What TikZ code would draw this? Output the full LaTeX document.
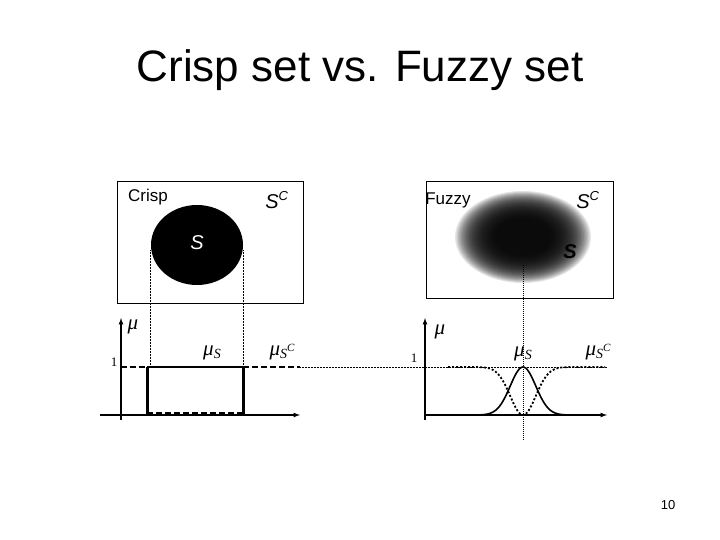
\documentclass[tikz,border=0pt]{standalone}
\usepackage{fontspec}
\setmainfont{Liberation Sans}
\newfontfamily\greekf{Liberation Serif}
\begin{document}
\begin{tikzpicture}[x=1pt,y=-1pt,
  lab/.style={font=\fontsize{17}{18}\selectfont},
  mlab/.style={font=\fontsize{20}{22}\selectfont\itshape},
  glab/.style={font=\fontsize{21}{22}\selectfont\greekf\itshape},
  ax/.style={line width=1.2pt,-latex},
  dotl/.style={densely dotted,line width=0.5pt},
  thickd/.style={line width=2.4pt,dash pattern=on 6pt off 3pt},
  thickdot/.style={line width=1.8pt,dash pattern=on 2pt off 2pt}]
\useasboundingbox (0,0) rectangle (720,540);
\node[font=\fontsize{44}{48}\selectfont] (title) at (360,70) {Crisp set vs. Fuzzy set};
\node[font=\fontsize{13}{15}\selectfont] (pg) at (668,505) {10};
% left
\draw[line width=1pt] (117,182) rectangle (303,303);
\fill (197,245) ellipse (46 and 40);
\node[lab] (crisp) at (148,197) {Crisp};
\node[mlab] (sc1) at (277,200) {S\textsuperscript{\fontsize{13}{14}\selectfont C}};
\node[mlab,text=white] (s1) at (197,243) {S};
\draw[dotl] (150,250) -- (150,367);
\draw[dotl] (243,250) -- (243,367);
\draw[ax] (121,420) -- (121,318);
\draw[ax] (100,415) -- (300,415);
\node[glab] (mu1) at (133,327) {μ};
\node[font=\fontsize{13}{14}\selectfont\greekf] (one1) at (114,362) {1};
\node[glab] (mus1) at (212,353) {μ\raisebox{-3pt}{\fontsize{14}{14}\selectfont\itshape S}};
\node[glab] (musc1) at (282,352) {μ\raisebox{-3pt}{\fontsize{14}{14}\selectfont\itshape S}\raisebox{4pt}{\fontsize{11}{11}\selectfont\itshape C}};
\draw[line width=1.6pt] (147,367) -- (243,367);
\draw[line width=3pt] (147,367) -- (147,415);
\draw[line width=3pt] (243,367) -- (243,415);
\draw[thickd] (121,367) -- (147,367);
\draw[white,line width=1pt,dash pattern=on 4pt off 5pt] (145,371) -- (145,411);
\draw[thickd] (243,367) -- (300,367);
\draw[white,line width=1pt,dash pattern=on 4pt off 5pt] (245,371) -- (245,411);
\draw[line width=1.6pt,dash pattern=on 6pt off 3pt] (147,413) -- (243,413);
\draw[dotl] (300,367) -- (607,367);
% right
\draw[line width=1pt] (426,182) rectangle (613,298);
\foreach \i in {0,...,29}{
  \fill[black,opacity=0.1] (523,237) ellipse ({68-1.4*\i} and {46-0.95*\i});
}
\node[lab] (fuzzy) at (448,200) {Fuzzy};
\node[mlab] (sc2) at (588,200) {S\textsuperscript{\fontsize{13}{14}\selectfont C}};
\node[mlab,font=\fontsize{20}{22}\selectfont\bfseries\itshape] (s2) at (570,252) {S};
\draw[ax] (425,420) -- (425,318);
\draw[ax] (425,415) -- (607,415);
\node[glab] (mu2) at (440,332) {μ};
\node[font=\fontsize{13}{14}\selectfont\greekf] (one2) at (414,358) {1};
\node[glab] (mus2) at (523,354) {μ\raisebox{-3pt}{\fontsize{14}{14}\selectfont\itshape S}};
\node[glab] (musc2) at (598,352) {μ\raisebox{-3pt}{\fontsize{14}{14}\selectfont\itshape S}\raisebox{4pt}{\fontsize{11}{11}\selectfont\itshape C}};
\draw[line width=1.6pt,domain=430:600,samples=120,smooth] plot ({\x},{415-48*exp(-((\x-523)*(\x-523)/324))});
\draw[thickdot,domain=448:605,samples=120,smooth] plot ({\x},{367+48*exp(-((\x-523)*(\x-523)/324))});
\draw[dotl,line width=1pt] (523,265) -- (523,440);
\end{tikzpicture}
\end{document}
